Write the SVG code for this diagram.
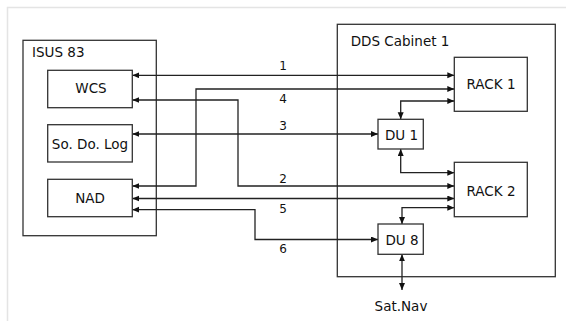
<svg xmlns="http://www.w3.org/2000/svg" width="566" height="321" viewBox="0 0 566 321">
<style>
.box{fill:#fff;stroke:#333;stroke-width:1.3}
.frame{fill:none;stroke:#333;stroke-width:1.3}
.t{font-family:"DejaVu Sans",Verdana,sans-serif;font-size:13.5px;fill:#111}
.n{font-family:"DejaVu Sans",Verdana,sans-serif;font-size:12px;fill:#111;text-anchor:middle}
.c{fill:none;stroke:#222;stroke-width:1.3;marker-start:url(#ah);marker-end:url(#ah)}
.m{text-anchor:middle}
</style>
<defs>
<marker id="ah" markerUnits="userSpaceOnUse" markerWidth="8" markerHeight="7" refX="7" refY="3" orient="auto-start-reverse">
<path d="M0,0 L7,3 L0,6 z" fill="#111"/>
</marker>
</defs>
<rect width="566" height="321" fill="#fff"/>
<path d="M7.5,321 V7.5 H566" fill="none" stroke="#e4e4e4" stroke-width="1.5"/>
<g id="isus83">
<rect class="frame" x="23" y="40.3" width="133.3" height="195.4"/>
<text class="t" x="32" y="57">ISUS 83</text>
</g>
<g id="dds">
<rect class="frame" x="337.3" y="24.3" width="218" height="252.4"/>
<text class="t" x="350.7" y="46">DDS Cabinet 1</text>
</g>
<g id="connectors">
<path class="c" d="M132.3,75.3 H454.3"/>
<path class="c" d="M132.3,100 H238 V186 H454.3"/>
<path class="c" d="M132.3,186 H196 V89 H454.3"/>
<path class="c" d="M132.3,134 H378"/>
<path class="c" d="M132.3,198.5 H454.3"/>
<path class="c" d="M132.3,209.7 H255 V239.5 H378"/>
<path class="c" d="M454.3,101 H400.7 V119.3"/>
<path class="c" d="M400.7,149 V172.7 H454.3"/>
<path class="c" d="M454.3,207.7 H402 V224"/>
<path class="c" d="M402,254.3 V290"/>
<text class="n" x="283" y="70">1</text>
<text class="n" x="283" y="103.3">4</text>
<text class="n" x="283" y="130">3</text>
<text class="n" x="283" y="182.7">2</text>
<text class="n" x="283" y="212.7">5</text>
<text class="n" x="283" y="253.3">6</text>
</g>
<g id="wcs">
<rect class="box" x="47.7" y="70.3" width="84.6" height="37.4"/>
<text class="t m" x="91" y="93.3">WCS</text>
</g>
<g id="sodolog">
<rect class="box" x="47.7" y="124.7" width="84.6" height="37.3"/>
<text class="t m" x="90" y="148.5">So. Do. Log</text>
</g>
<g id="nad">
<rect class="box" x="47.7" y="179.3" width="84.6" height="37.4"/>
<text class="t m" x="90" y="203.3">NAD</text>
</g>
<g id="rack1">
<rect class="box" x="454.3" y="57.3" width="73" height="54"/>
<text class="t m" x="491" y="89">RACK 1</text>
</g>
<g id="du1">
<rect class="box" x="378" y="119.3" width="45.3" height="29.7"/>
<text class="t m" x="401.5" y="140">DU 1</text>
</g>
<g id="rack2">
<rect class="box" x="454.3" y="162.3" width="73" height="54.4"/>
<text class="t m" x="491" y="195.7">RACK 2</text>
</g>
<g id="du8">
<rect class="box" x="378" y="224" width="45.3" height="30.3"/>
<text class="t m" x="402" y="244.7">DU 8</text>
</g>
<g id="satnav">
<text class="t m" x="401" y="311">Sat.Nav</text>
</g>
</svg>
